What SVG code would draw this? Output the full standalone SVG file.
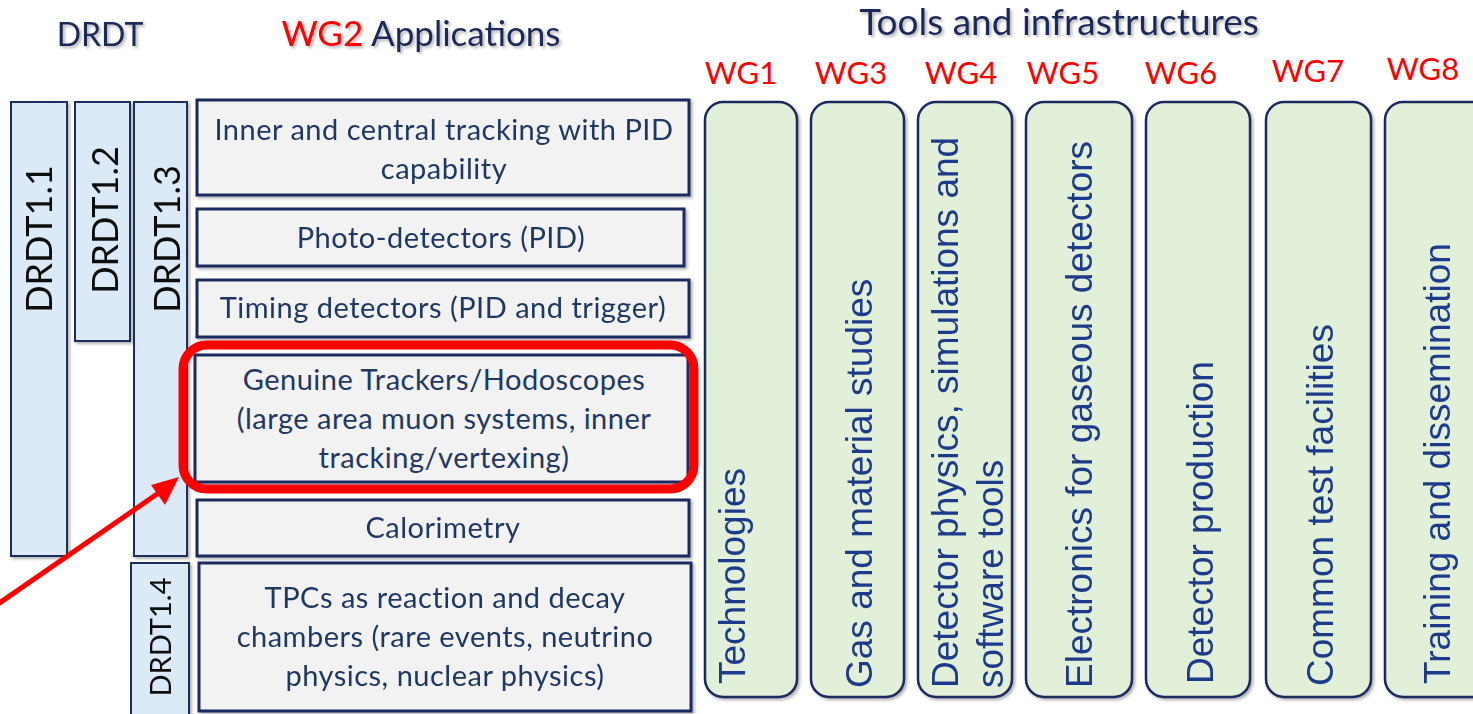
<svg xmlns="http://www.w3.org/2000/svg" width="1473" height="714" viewBox="0 0 1473 714">
<defs>
<style>
.drdt{fill:#dce9f6;stroke:#1f2d5c;stroke-width:2}
.app{fill:#f2f2f2;stroke:#1c2a5e;stroke-width:3}
.wg{fill:#e2f0d9;stroke:#1c2a5e;stroke-width:2.5}
.ttl{font-family:Lato,"Open Sans",sans-serif;fill:#1f2a5a}
.red{fill:#ff0000}
.wgl{font-family:Lato,"Open Sans",sans-serif;font-size:31px;fill:#ff0000}
.at{font-family:Lato,"Open Sans",sans-serif;font-size:29px;letter-spacing:0.5px;fill:#1f3864;text-anchor:middle}
.dl{font-family:Lato,"Open Sans",sans-serif;font-size:36px;fill:#111111;text-anchor:middle}
.dls{font-size:29px}
.gt{font-family:"Liberation Sans",Arial,sans-serif;font-size:37px;fill:#1f3a8a}
</style>
<filter id="sh" x="-10%" y="-10%" width="130%" height="130%">
<feDropShadow dx="2" dy="2" stdDeviation="1.5" flood-color="#000" flood-opacity="0.3"/>
</filter>
</defs>
<rect width="1473" height="714" fill="#ffffff"/>

<g id="titles" filter="url(#sh)">
<text class="ttl" x="100" y="46" font-size="32" text-anchor="middle">DRDT</text>
<text class="ttl" x="421" y="46" font-size="35" text-anchor="middle"><tspan class="red">WG2</tspan> Applications</text>
<text class="ttl" x="1059" y="35" font-size="37" text-anchor="middle">Tools and infrastructures</text>
</g>

<g id="wg-labels">
<text class="wgl" x="741" y="84" text-anchor="middle">WG1</text>
<text class="wgl" x="851" y="84" text-anchor="middle">WG3</text>
<text class="wgl" x="961" y="84" text-anchor="middle">WG4</text>
<text class="wgl" x="1063" y="84" text-anchor="middle">WG5</text>
<text class="wgl" x="1181" y="84" text-anchor="middle">WG6</text>
<text class="wgl" x="1308" y="82" text-anchor="middle">WG7</text>
<text class="wgl" x="1423" y="80" text-anchor="middle">WG8</text>
</g>

<g id="drdt1-1" filter="url(#sh)">
<rect class="drdt" x="11" y="102" width="56" height="454"/>
<text class="dl" transform="translate(52,239) rotate(-90)">DRDT1.1</text>
</g>
<g id="drdt1-2" filter="url(#sh)">
<rect class="drdt" x="75" y="102" width="55" height="239"/>
<text class="dl" transform="translate(118,220) rotate(-90)">DRDT1.2</text>
</g>
<g id="drdt1-3" filter="url(#sh)">
<rect class="drdt" x="134" y="102" width="53" height="454"/>
<text class="dl" transform="translate(180,239) rotate(-90)">DRDT1.3</text>
</g>
<g id="drdt1-4" filter="url(#sh)">
<rect class="drdt" x="131" y="563" width="58" height="160"/>
<text class="dl dls" transform="translate(171,637) rotate(-90)">DRDT1.4</text>
</g>

<g id="app-inner" filter="url(#sh)">
<rect class="app" x="197" y="100" width="492" height="95"/>
<text class="at" x="444" y="140">Inner and central tracking with PID</text>
<text class="at" x="444" y="179">capability</text>
</g>
<g id="app-photo" filter="url(#sh)">
<rect class="app" x="197" y="209" width="487" height="57"/>
<text class="at" x="441" y="248">Photo-detectors  (PID)</text>
</g>
<g id="app-timing" filter="url(#sh)">
<rect class="app" x="197" y="280" width="492" height="57"/>
<text class="at" x="443" y="318">Timing detectors  (PID and trigger)</text>
</g>
<g id="app-genuine">
<rect class="app" x="195" y="355" width="493" height="127" filter="url(#sh)"/>
<text class="at" x="444" y="390">Genuine  Trackers/Hodoscopes</text>
<text class="at" x="444" y="429">(large area muon systems, inner</text>
<text class="at" x="444" y="468">tracking/vertexing)</text>
<rect x="183" y="345" width="511" height="144" rx="24" fill="none" stroke="#ff0000" stroke-width="9"/>
</g>
<g id="app-calo" filter="url(#sh)">
<rect class="app" x="197" y="500" width="492" height="56"/>
<text class="at" x="443" y="538">Calorimetry</text>
</g>
<g id="app-tpc" filter="url(#sh)">
<rect class="app" x="199" y="563" width="492" height="148"/>
<text class="at" x="445" y="608">TPCs as reaction  and decay</text>
<text class="at" x="445" y="647">chambers (rare  events, neutrino</text>
<text class="at" x="445" y="686">physics, nuclear physics)</text>
</g>

<g id="wg1" filter="url(#sh)">
<rect class="wg" x="705" y="102" width="92" height="595" rx="18"/>
<text class="gt" transform="translate(745,684) rotate(-90)">Technologies</text>
</g>
<g id="wg3" filter="url(#sh)">
<rect class="wg" x="811" y="102" width="93" height="595" rx="18"/>
<text class="gt" transform="translate(872,688) rotate(-90)">Gas and material  studies</text>
</g>
<g id="wg4" filter="url(#sh)">
<rect class="wg" x="918" y="102" width="94" height="595" rx="18"/>
<text class="gt" transform="translate(958,688) rotate(-90)">Detector physics,  simulations and</text>
<text class="gt" transform="translate(1003,688) rotate(-90)">software tools</text>
</g>
<g id="wg5" filter="url(#sh)">
<rect class="wg" x="1026" y="102" width="106" height="595" rx="18"/>
<text class="gt" transform="translate(1092,688) rotate(-90)">Electronics for gaseous detectors</text>
</g>
<g id="wg6" filter="url(#sh)">
<rect class="wg" x="1146" y="102" width="104" height="595" rx="18"/>
<text class="gt" transform="translate(1213,684) rotate(-90)">Detector production</text>
</g>
<g id="wg7" filter="url(#sh)">
<rect class="wg" x="1266" y="102" width="105" height="595" rx="18"/>
<text class="gt" transform="translate(1333,686) rotate(-90)">Common  test facilities</text>
</g>
<g id="wg8" filter="url(#sh)">
<rect class="wg" x="1385" y="102" width="110" height="595" rx="18"/>
<text class="gt" transform="translate(1450,684) rotate(-90)">Training and dissemination</text>
</g>

<g id="connectors">
<line x1="-2" y1="604" x2="160" y2="492" stroke="#ff0000" stroke-width="5"/>
<polygon points="179,477 151,485 165,505" fill="#ff0000"/>
</g>
</svg>
